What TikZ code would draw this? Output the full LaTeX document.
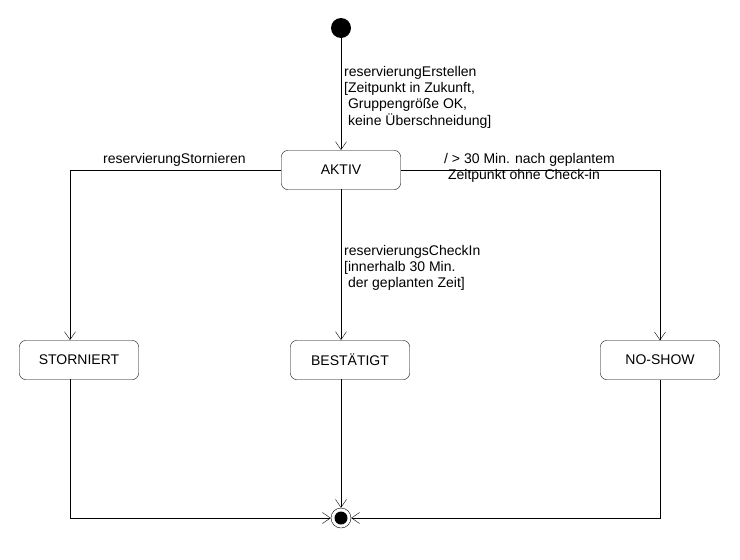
\documentclass[tikz,border=0pt]{standalone}
\usepackage{fontspec}
\setmainfont{Liberation Sans}
\usetikzlibrary{arrows.meta}
\begin{document}
\begin{tikzpicture}[x=1pt,y=-1pt,
  st/.style={draw,rounded corners=6pt,minimum width=119pt,minimum height=39pt,font=\fontsize{14}{16}\selectfont,inner sep=0pt},
  ar/.style={draw,-{Straight Barb[length=8pt,width=11pt]}},
  lb/.style={font=\fontsize{14}{16.3}\selectfont,align=left,inner sep=0pt,anchor=north west}]
\useasboundingbox (0,0) rectangle (740,560);
\node[circle,fill=black,minimum size=20pt,inner sep=0pt] (init) at (341,28) {};
\node[st] (aktiv) at (341,170) {AKTIV};
\node[st] (storn) at (79,360) {STORNIERT};
\node[st] (best) at (350,360) {BESTÄTIGT};
\node[st] (noshow) at (660,360) {NO-SHOW};
\node[circle,draw,minimum size=20pt,inner sep=0pt] (fin) at (341,518) {};
\fill (fin) circle (6.5pt);
\coordinate (a1) at (341,150);
\coordinate (a2) at (341,189);
\coordinate (b1) at (341,340);
\coordinate (b2) at (341,379);
\draw[ar] (init) -- (a1);
\draw[ar] (aktiv.west) -- (70,170) -- (70,340);
\draw[ar] (aktiv.east) -- (660,170) -- (noshow.north);
\draw[ar] (a2) -- (b1);
\draw[ar] (b2) -- (fin);
\draw[ar] (70,379) -- (70,518) -- (fin);
\draw[ar] (noshow.south) -- (660,518) -- (fin);
\node[lb] (l1) at (344,66) {reservierungErstellen\\{}[Zeitpunkt in Zukunft,\\\ Gruppengröße OK,\\\ keine Überschneidung]};
\node[lb] (l2) at (103,153) {reservierungStornieren};
\node[lb] (l3) at (444,153) {/ > 30 Min. nach geplantem\\\ Zeitpunkt ohne Check-in};
\node[lb] (l4) at (344,245) {reservierungsCheckIn\\{}[innerhalb 30 Min.\\\ der geplanten Zeit]};
\end{tikzpicture}
\end{document}
